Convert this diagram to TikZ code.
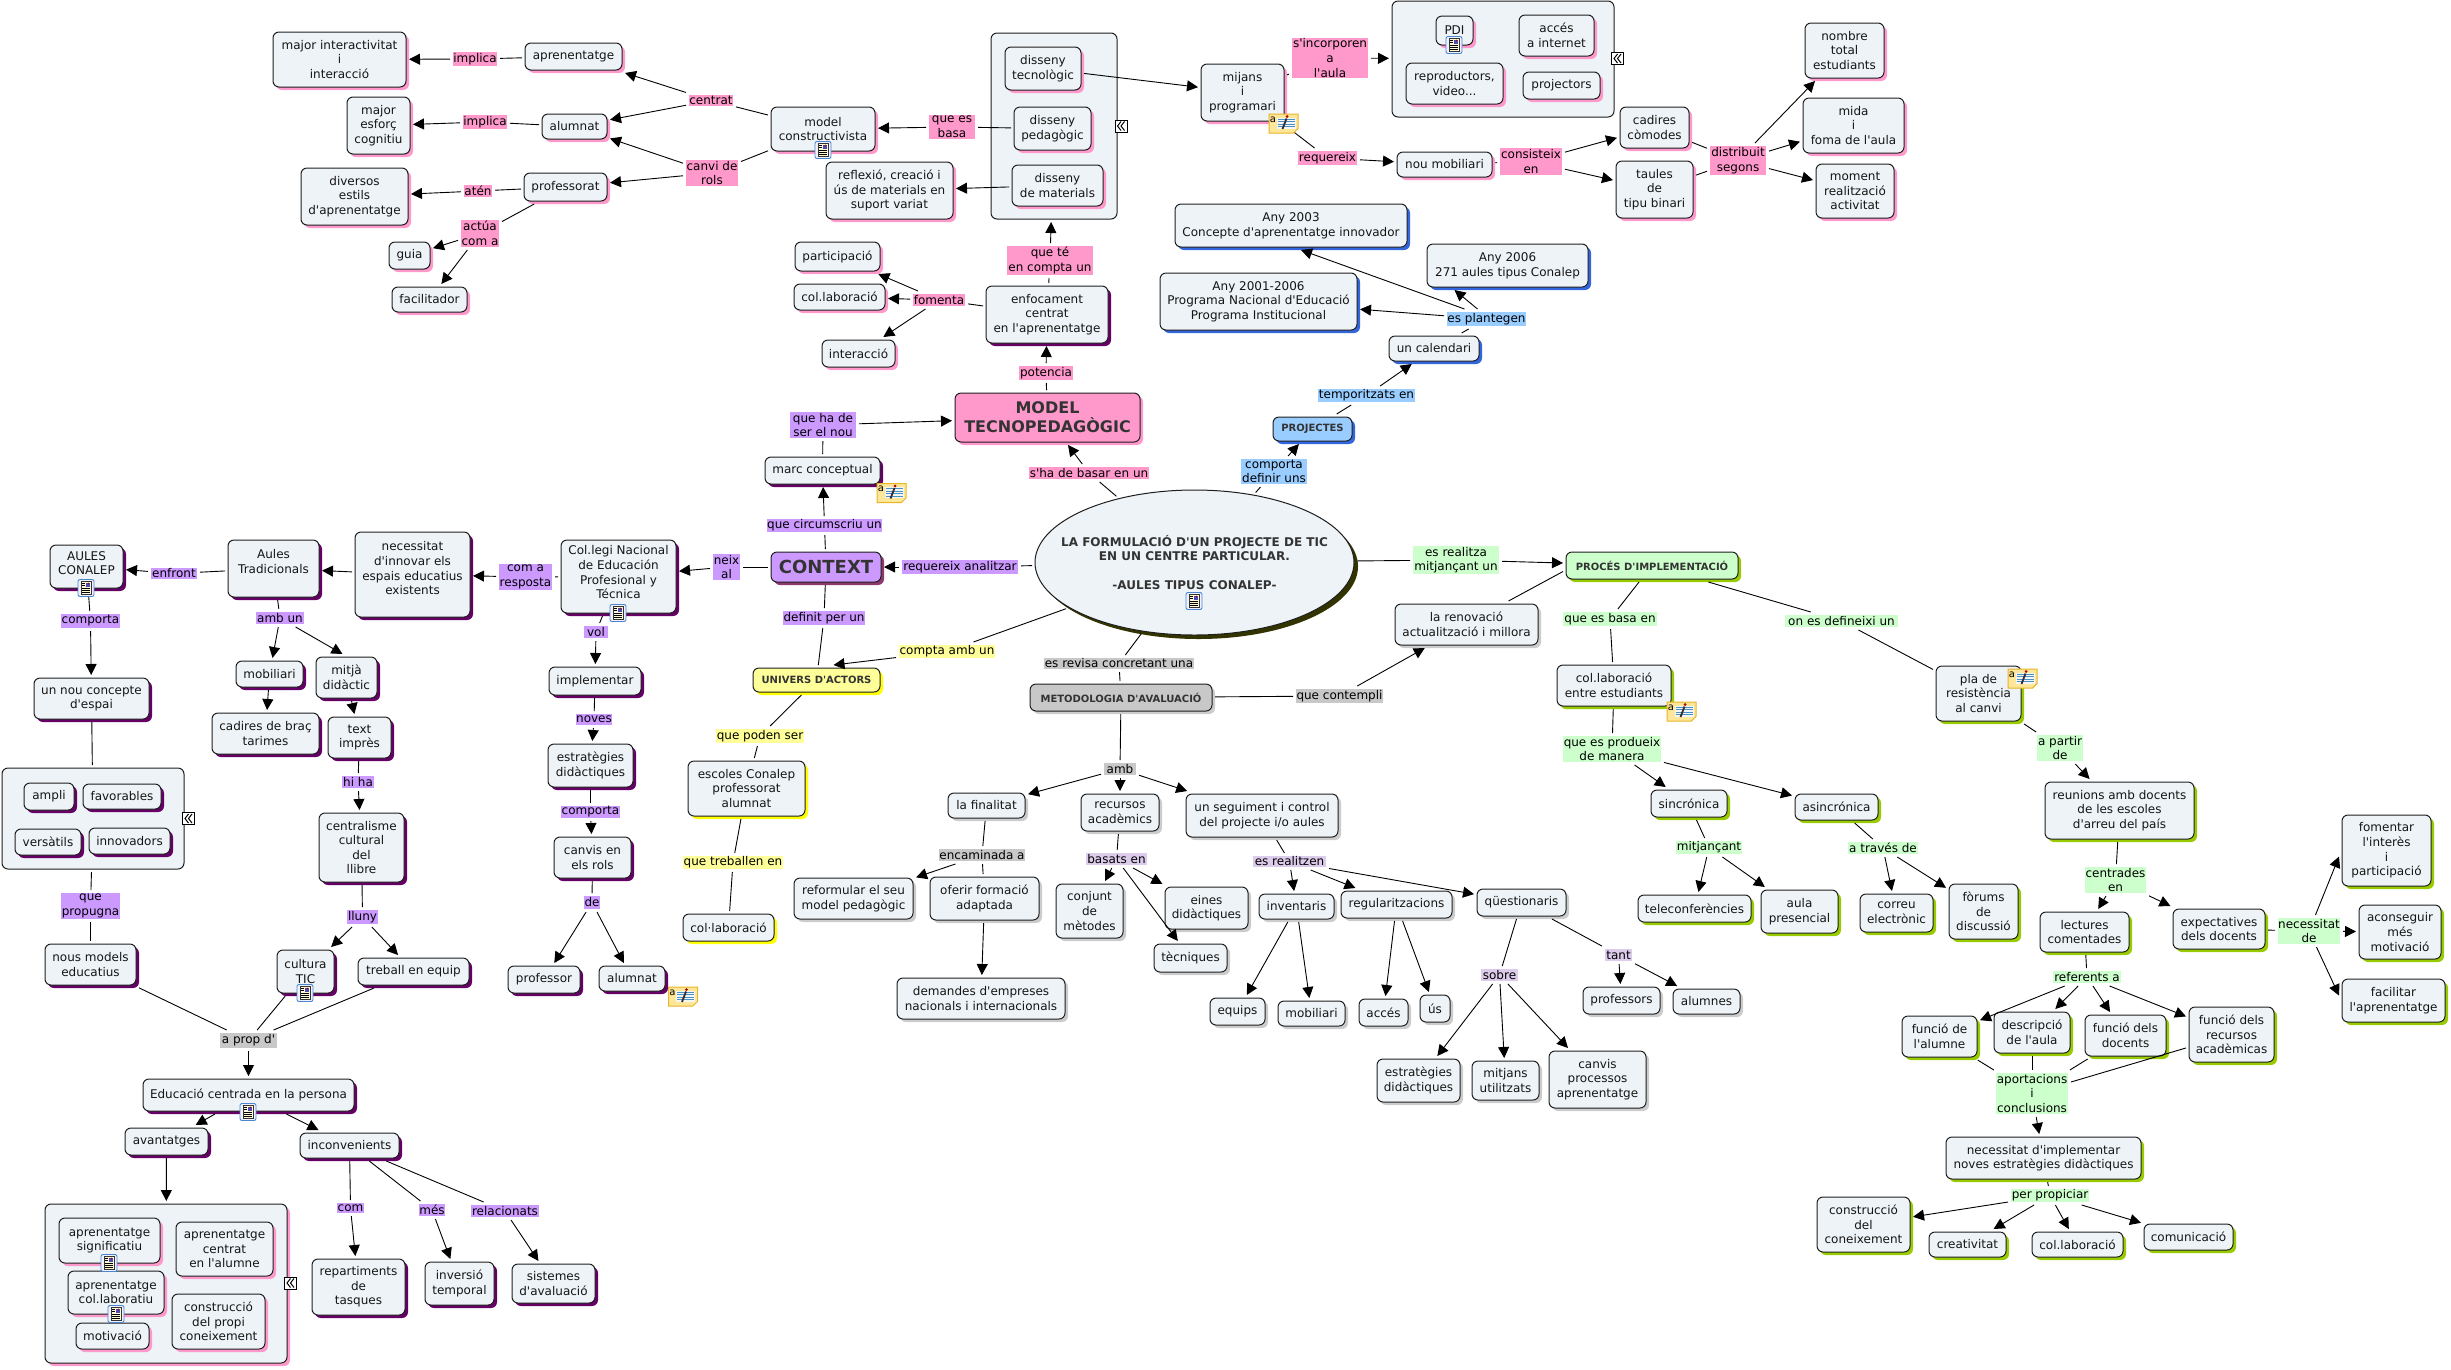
\documentclass[tikz,border=0pt]{standalone}
\usepackage{fontspec}
\usetikzlibrary{arrows.meta,shadows,shapes.geometric}
\newfontfamily\dv{DejaVu Sans}
\definecolor{nfill}{HTML}{EDF3F6}
\definecolor{nline}{HTML}{1E1E1E}
\definecolor{cpink}{HTML}{FF99CC}
\definecolor{cpurp}{HTML}{CC99FF}
\definecolor{cgreen}{HTML}{CCFFCC}
\definecolor{cblue}{HTML}{99CCFF}
\definecolor{cyell}{HTML}{FFFF99}
\definecolor{cgray}{HTML}{C8C8C8}
\definecolor{clav}{HTML}{DCCBEA}
\definecolor{sdpurp}{HTML}{660066}
\definecolor{sdblue}{HTML}{3366DD}
\definecolor{sdgreen}{HTML}{99CC00}
\definecolor{sdyell}{HTML}{FFFF00}
\definecolor{sdgray}{HTML}{CCCCCC}
\definecolor{sdolive}{HTML}{333300}
\definecolor{sdcontext}{HTML}{8B3A6B}
\definecolor{txt}{HTML}{151515}
\definecolor{txtb}{HTML}{333333}
\definecolor{iconblue}{HTML}{4A86D0}
\definecolor{iconpage}{HTML}{FFFBD8}
\definecolor{noteyell}{HTML}{FFE79A}
\definecolor{noteline}{HTML}{E8B428}
\definecolor{notepage}{HTML}{F4F6F2}
\definecolor{noteblue}{HTML}{4A90C8}
\definecolor{notepen}{HTML}{3A2A30}
\tikzset{
  basebox/.style={rectangle,rounded corners=6pt,draw=nline,line width=1pt,fill=nfill,
    inner sep=0pt,outer sep=3pt,align=center,text=txt,
    font={\dv\fontsize{12}{14.6}\selectfont}},
  groupbox/.style={basebox},
  sdw/.style={general shadow={fill=#1,shadow xshift=3pt,shadow yshift=-3pt}},
  npink/.style={basebox,sdw=cpink},
  npurp/.style={basebox,sdw=sdpurp},
  nblue/.style={basebox,sdw=sdblue},
  ngreen/.style={basebox,sdw=sdgreen},
  nyell/.style={basebox,sdw=sdyell},
  ngray/.style={basebox,sdw=sdgray},
  boldsmall/.style={font={\dv\bfseries\fontsize{10}{12}\selectfont},text=txtb},
  lblbase/.style={rectangle,inner sep=0pt,outer sep=3pt,align=center,text=black,
    font={\dv\fontsize{12}{14.6}\selectfont}},
  lpink/.style={lblbase,fill=cpink},
  lpurp/.style={lblbase,fill=cpurp},
  lgreen/.style={lblbase,fill=cgreen},
  lblue/.style={lblbase,fill=cblue},
  lyell/.style={lblbase,fill=cyell},
  lgray/.style={lblbase,fill=cgray},
  llav/.style={lblbase,fill=clav},
  lnk/.style={line width=.9pt,draw=black},
  arw/.style={line width=.9pt,draw=black,-{Triangle[length=11pt,width=11pt]}},
  docicon/.pic={
    \draw[rounded corners=2pt,draw=iconblue,fill=blue!6,line width=.9pt] (-8,-8.5) rectangle (8,8.5);
    \draw[fill=iconpage,draw=black!80,line width=.6pt] (-5,-6.5) rectangle (5,6.5);
    \fill[blue!40!gray] (0,-5.5) rectangle (4,-1.5);
    \fill[red!70!black] (2.5,-4.5) circle (.9);
    \foreach \yy in {-4.5,-2.5}{\draw[line width=.6pt] (-4,\yy) -- (-1,\yy);}
    \foreach \yy in {0,2,4}{\draw[line width=.6pt] (-4,\yy) -- (4,\yy);}
  },
  noteicon/.pic={
    \draw[fill=noteyell,draw=noteline,line width=1pt] (-14.5,-9.5) -- (14.5,-9.5) -- (14.5,5) -- (10,9.5) -- (-14.5,9.5) -- cycle;
    \fill[notepage] (-7,-6) rectangle (12,5);
    \foreach \yy in {-4.5,-2,.5,3}{\draw[noteblue,line width=.9pt] (-6,\yy) -- (11,\yy);}
    \draw[notepen,line width=1.8pt] (3,-5) -- (-1,5.5);
    \fill[red!70!black] (3.5,-7) circle (1.5);
    \node[inner sep=0pt,font={\dv\fontsize{10}{10}\selectfont}] (glyph) at (-10.5,-4) {a};
  },
  expandicon/.pic={
    \draw[fill=white,draw=black,line width=1pt] (-6,-6) rectangle (6,6);
    \draw[line width=1pt] (0,-4.5) -- (-3.5,0) -- (0,4.5);
    \draw[line width=1pt] (3.5,-4.5) -- (0,0) -- (3.5,4.5);
  }
}
\newcommand{\nd}[7]{%
  \pgfmathsetmacro\cxx{(#3+#5)/2}\pgfmathsetmacro\cyy{(#4+#6)/2}%
  \pgfmathsetmacro\wdd{#5-#3}\pgfmathsetmacro\hgg{#6-#4}%
  \node[#1,minimum width=\wdd pt,minimum height=\hgg pt] (#2) at (\cxx,\cyy) {#7};}
\begin{document}
\begin{tikzpicture}[x=1pt,y=-1pt]
\path[use as bounding box] (0,0) rectangle (2451,1369);
% group boxes
\nd{groupbox}{gdis}{991}{33}{1117}{219}{}
\nd{groupbox}{gmit}{1392}{1}{1614}{117}{}
\nd{groupbox}{gesp}{2}{768}{184}{869}{}
\nd{npink}{gapr}{45}{1204}{287}{1363}{}
% top-left pink
\nd{npink}{maj}{273}{32}{406}{87}{major interactivitat\\i\\interacció}
\nd{npink}{apr}{525}{43}{622}{70}{aprenentatge}
\nd{npink}{esf}{347}{97}{410}{154}{major\\esforç\\cognitiu}
\nd{npink}{alu}{542}{114}{607}{139}{alumnat}
\nd{npink}{div}{301}{168}{408}{225}{diversos\\estils\\d'aprenentatge}
\nd{npink}{prf}{524}{173}{607}{201}{professorat}
\nd{npink}{gui}{389}{242}{430}{269}{guia}
\nd{npink}{fac}{392}{287}{467}{312}{facilitador}
\nd{npink}{dte}{1005}{47}{1081}{90}{disseny\\tecnològic}
\nd{npink}{dpe}{1014}{107}{1091}{150}{disseny\\pedagògic}
\nd{npink}{dma}{1012}{165}{1103}{206}{disseny\\de materials}
\nd{npink}{mco}{771}{107}{875}{151}{model\\constructivista}
\nd{npink}{ref}{826}{162}{953}{219}{reflexió, creació i\\ús de materials en\\suport variat}
\nd{npink}{par}{795}{242}{880}{271}{participació}
\nd{npink}{cola}{794}{284}{885}{310}{col.laboració}
\nd{npink}{int}{822}{340}{895}{367}{interacció}
\nd{npurp}{enf}{986}{286}{1108}{343}{enfocament\\centrat\\en l'aprenentatge}
\node[npink,fill=cpink,font={\dv\bfseries\fontsize{16}{19}\selectfont},text=txtb,minimum width=185pt,minimum height=49pt] (mod) at (1047.5,417.5) {MODEL\\TECNOPEDAGÒGIC};
\nd{npink}{mij}{1201}{64}{1284}{121}{mijans\\i\\programari}
\nd{npink}{pdi}{1436}{16}{1473}{45}{PDI}
\nd{npink}{acc}{1519}{15}{1594}{56}{accés\\a internet}
\nd{npink}{rep}{1406}{63}{1503}{104}{reproductors,\\video...}
\nd{npink}{prj}{1523}{72}{1600}{99}{projectors}
\nd{npink}{nmo}{1397}{152}{1492}{177}{nou mobiliari}
\nd{npink}{cad}{1620}{107}{1689}{148}{cadires\\còmodes}
\nd{npink}{tau}{1616}{161}{1693}{218}{taules\\de\\tipu binari}
\nd{npink}{nom}{1805}{23}{1884}{78}{nombre\\total\\estudiants}
\nd{npink}{mid}{1803}{98}{1904}{153}{mida\\i\\foma de l'aula}
\nd{npink}{mom}{1816}{164}{1894}{218}{moment\\realització\\activitat}
% blue
\nd{nblue}{a03}{1175}{204}{1407}{247}{Any 2003\\Concepte d'aprenentatge innovador}
\nd{nblue}{a01}{1160}{273}{1357}{330}{Any 2001-2006\\Programa Nacional d'Educació\\Programa Institucional}
\nd{nblue}{a06}{1427}{244}{1588}{287}{Any 2006\\271 aules tipus Conalep}
\nd{nblue}{cal}{1389}{336}{1479}{361}{un calendari}
\nd{nblue,fill=cblue,boldsmall}{prjs}{1273}{417}{1352}{441}{PROJECTES}
% centre
\node[basebox,shape=ellipse,general shadow={fill=sdolive,shadow xshift=4pt,shadow yshift=-4pt},minimum width=319pt,minimum height=145pt] (ell) at (1194.5,562.5) {};
\node[align=center,inner sep=0pt,font={\dv\bfseries\fontsize{12}{14.6}\selectfont},text=txtb] (elltxt) at (1194.5,562.5) {LA FORMULACIÓ D'UN PROJECTE DE TIC\\EN UN CENTRE PARTICULAR.\\ \\-AULES TIPUS CONALEP-};
\node[basebox,sdw=sdcontext,fill=cpurp,font={\dv\bfseries\fontsize{18}{20}\selectfont},text=txtb,minimum width=110pt,minimum height=30pt] (ctx) at (826,567) {CONTEXT};
\nd{npurp}{mar}{765}{457}{880}{484}{marc conceptual}
\nd{npurp}{col}{561}{540}{676}{613}{Col.legi Nacional\\de Educación\\Profesional y\\Técnica\\[-6pt]\mbox{}}
\nd{npurp}{nec}{355}{532}{470}{617}{necessitat\\d'innovar els\\espais educatius\\existents\\[-2pt]\mbox{}}
\nd{npurp}{aut}{228}{540}{319}{597}{Aules\\Tradicionals\\\mbox{}}
\nd{npurp}{con}{50}{545}{123}{588}{AULES\\CONALEP\\[-8pt]\mbox{}}
\nd{npurp}{nou}{34}{678}{149}{719}{un nou concepte\\d'espai}
\nd{npurp}{mob}{236}{661}{303}{687}{mobiliari}
\nd{npurp}{mit}{316}{657}{377}{698}{mitjà\\didàctic}
\nd{npurp}{cbr}{212}{713}{319}{754}{cadires de braç\\tarimes}
\nd{npurp}{tex}{328}{717}{391}{758}{text\\imprès}
\nd{npurp}{amp}{24}{783}{74}{810}{ampli}
\nd{npurp}{fav}{83}{784}{161}{809}{favorables}
\nd{npurp}{ver}{15}{829}{81}{855}{versàtils}
\nd{npurp}{inn}{89}{828}{170}{854}{innovadors}
\nd{npurp}{cen}{319}{813}{404}{882}{centralisme\\cultural\\del\\llibre}
\nd{npurp}{imp}{549}{667}{641}{695}{implementar}
\nd{npurp}{est}{548}{744}{633}{787}{estratègies\\didàctiques}
\nd{npurp}{can}{554}{837}{631}{878}{canvis en\\els rols}
\nd{npurp}{nmd}{45}{944}{136}{985}{nous models\\educatius}
\nd{npurp}{cul}{277}{950}{334}{993}{cultura\\TIC}
\nd{npurp}{tre}{358}{958}{469}{985}{treball en equip}
\nd{npurp}{pro}{508}{966}{580}{993}{professor}
\nd{npurp}{alm}{599}{966}{665}{991}{alumnat}
\nd{npurp}{edu}{143}{1079}{354}{1111}{Educació centrada en la persona}
\nd{npurp}{ava}{125}{1128}{208}{1155}{avantatges}
\nd{npurp}{inc}{300}{1133}{399}{1158}{inconvenients}
\nd{npink}{asi}{59}{1218}{160}{1263}{aprenentatge\\significatiu}
\nd{npink}{ace}{176}{1222}{273}{1276}{aprenentatge\\centrat\\en l'alumne}
\nd{npink}{aco}{68}{1271}{164}{1314}{aprenentatge\\col.laboratiu}
\nd{npink}{mot}{76}{1323}{149}{1349}{motivació}
\nd{npink}{cns}{172}{1294}{265}{1349}{construcció\\del propi\\coneixement}
\nd{npurp}{rpt}{312}{1259}{405}{1315}{repartiments\\de\\tasques}
\nd{npurp}{inv}{425}{1262}{494}{1305}{inversió\\temporal}
\nd{npurp}{sis}{512}{1264}{595}{1303}{sistemes\\d'avaluació}
% yellow
\nd{nyell,fill=cyell,boldsmall}{uni}{753}{668}{880}{692}{UNIVERS D'ACTORS}
\nd{nyell}{esc}{688}{761}{805}{816}{escoles Conalep\\professorat\\alumnat}
\nd{nyell}{cll}{683}{914}{774}{941}{col·laboració}
% gray
\nd{ngray,fill=cgray,boldsmall}{met}{1030}{684}{1212}{711}{METODOLOGIA D'AVALUACIÓ}
\nd{ngray}{ren}{1395}{604}{1538}{645}{la renovació\\actualització i millora}
\nd{ngray}{fin}{948}{793}{1025}{818}{la finalitat}
\nd{ngray}{rec}{1081}{794}{1159}{831}{recursos\\acadèmics}
\nd{ngray}{seg}{1186}{794}{1338}{837}{un seguiment i control\\del projecte i/o aules}
\nd{ngray}{rfm}{794}{878}{913}{919}{reformular el seu\\model pedagògic}
\nd{ngray}{ofe}{930}{877}{1039}{920}{oferir formació\\adaptada}
\nd{ngray}{cnj}{1056}{884}{1123}{938}{conjunt\\de\\mètodes}
\nd{ngray}{ein}{1165}{887}{1248}{929}{eines\\didàctiques}
\nd{ngray}{tcn}{1154}{944}{1227}{972}{tècniques}
\nd{ngray}{dem}{897}{978}{1065}{1019}{demandes d'empreses\\nacionals i internacionals}
\nd{ngray}{ivt}{1259}{894}{1334}{919}{inventaris}
\nd{ngray}{reg}{1341}{891}{1452}{918}{regularitzacions}
\nd{ngray}{qes}{1477}{889}{1566}{916}{qüestionaris}
\nd{ngray}{equ}{1210}{998}{1265}{1025}{equips}
\nd{ngray}{mbl}{1278}{1001}{1345}{1026}{mobiliari}
\nd{ngray}{acs}{1359}{999}{1408}{1026}{accés}
\nd{ngray}{usn}{1420}{995}{1450}{1022}{ús}
\nd{ngray}{esd}{1377}{1059}{1460}{1102}{estratègies\\didàctiques}
\nd{ngray}{mut}{1472}{1061}{1539}{1100}{mitjans\\utilitzats}
\nd{ngray}{cpa}{1549}{1051}{1646}{1108}{canvis\\processos\\aprenentatge}
\nd{ngray}{pfs}{1583}{987}{1660}{1014}{professors}
\nd{ngray}{als}{1673}{989}{1740}{1014}{alumnes}
% green
\nd{ngreen,fill=cgreen,boldsmall}{pim}{1566}{552}{1738}{579}{PROCÉS D'IMPLEMENTACIÓ}
\nd{ngreen}{cen2}{1557}{665}{1671}{706}{col.laboració\\entre estudiants}
\nd{ngreen}{sin}{1651}{790}{1727}{817}{sincrónica}
\nd{ngreen}{asn}{1795}{794}{1878}{820}{asincrónica}
\nd{ngreen}{tel}{1638}{895}{1751}{922}{teleconferències}
\nd{ngreen}{aul}{1761}{890}{1838}{933}{aula\\presencial}
\nd{ngreen}{cor}{1860}{894}{1933}{932}{correu\\electrònic}
\nd{ngreen}{for}{1949}{884}{2018}{939}{fòrums\\de\\discussió}
\nd{ngreen}{pla}{1936}{666}{2021}{721}{pla de\\resistència\\al canvi}
\nd{ngreen}{reu}{2045}{782}{2194}{839}{reunions amb docents\\de les escoles\\d'arreu del país}
\nd{ngreen}{fom}{2342}{815}{2431}{886}{fomentar\\l'interès\\i\\participació}
\nd{ngreen}{lec}{2040}{912}{2129}{952}{lectures\\comentades}
\nd{ngreen}{exd}{2173}{909}{2265}{949}{expectatives\\dels docents}
\nd{ngreen}{aco2}{2359}{905}{2441}{959}{aconseguir\\més\\motivació}
\nd{ngreen}{fcl}{2342}{979}{2445}{1022}{facilitar\\l'aprenentatge}
\nd{ngreen}{fal}{1902}{1016}{1977}{1057}{funció de\\l'alumne}
\nd{ngreen}{des}{1994}{1012}{2070}{1053}{descripció\\de l'aula}
\nd{ngreen}{fdo}{2085}{1015}{2166}{1056}{funció dels\\docents}
\nd{ngreen}{fre}{2189}{1007}{2274}{1062}{funció dels\\recursos\\acadèmicas}
\nd{ngreen}{nim}{1946}{1137}{2141}{1179}{necessitat d'implementar\\noves estratègies didàctiques}
\nd{ngreen}{cnx}{1817}{1197}{1910}{1252}{construcció\\del\\coneixement}
\nd{ngreen}{cre}{1929}{1232}{2006}{1257}{creativitat}
\nd{ngreen}{clb}{2032}{1232}{2123}{1257}{col.laboració}
\nd{ngreen}{cmu}{2144}{1224}{2233}{1250}{comunicació}
% labels
\nd{lpink}{l1}{453}{52}{497}{66}{implica}
\nd{lpink}{l2}{463}{115}{507}{129}{implica}
\nd{lpink}{l3}{464}{185}{492}{197}{atén}
\nd{lpink}{l4}{461}{220}{499}{247}{actúa\\com a}
\nd{lpink}{l5}{689}{95}{733}{106}{centrat}
\nd{lpink}{l6}{686}{160}{738}{186}{canvi de\\rols}
\nd{lpink}{l7}{929}{115}{975}{139}{que es\\basa}
\nd{lpink}{l8}{1007}{246}{1093}{275}{que té\\en compta un}
\nd{lpink}{l9}{913}{294}{965}{306}{fomenta}
\nd{lpink}{l10}{1019}{366}{1073}{380}{potencia}
\nd{lpurp}{l11}{790}{412}{856}{438}{que ha de\\ser el nou}
\nd{lpink}{l12}{1292}{38}{1368}{78}{s'incorporen\\a\\l'aula}
\nd{lpink}{l13}{1298}{151}{1357}{165}{requereix}
\nd{lpink}{l14}{1500}{148}{1562}{175}{consisteix\\en}
\nd{lpink}{l15}{1710}{146}{1766}{175}{distribuit\\segons}
\nd{lblue}{l16}{1447}{312}{1526}{326}{es plantegen}
\nd{lblue}{l17}{1318}{389}{1415}{402}{temporitzats en}
\nd{lblue}{l18}{1241}{459}{1307}{484}{comporta\\definir uns}
\nd{lpurp}{l19}{151}{568}{197}{579}{enfront}
\nd{lpurp}{l20}{499}{564}{552}{590}{com a\\resposta}
\nd{lpurp}{l21}{61}{614}{120}{628}{comporta}
\nd{lpurp}{l22}{256}{612}{304}{624}{amb un}
\nd{lpurp}{l23}{584}{626}{608}{638}{vol}
\nd{lpurp}{l24}{576}{714}{612}{725}{noves}
\nd{lpurp}{l25}{561}{806}{620}{818}{comporta}
\nd{lpurp}{l26}{342}{776}{374}{788}{hi ha}
\nd{lpurp}{l27}{61}{893}{120}{919}{que\\propugna}
\nd{lpurp}{l28}{347}{910}{378}{924}{lluny}
\nd{lpurp}{l29}{584}{896}{600}{909}{de}
\nd{lpink}{l30}{1029}{467}{1149}{479}{s'ha de basar en un}
\nd{lpurp}{l31}{767}{519}{882}{532}{que circumscriu un}
\nd{lpurp}{l32}{713}{554}{740}{580}{neix\\al}
\nd{lpurp}{l33}{902}{560}{1018}{574}{requereix analitzar}
\nd{lpurp}{l34}{783}{611}{865}{625}{definit per un}
\nd{lyell}{l35}{899}{645}{995}{658}{compta amb un}
\nd{lgray}{l36}{1044}{658}{1194}{669}{es revisa concretant una}
\nd{lyell}{l37}{716}{729}{804}{743}{que poden ser}
\nd{lyell}{l38}{683}{856}{783}{869}{que treballen en}
\nd{lgray}{l39}{1104}{763}{1136}{775}{amb}
\nd{lgray}{l40}{939}{849}{1025}{861}{encaminada a}
\nd{llav}{l41}{1086}{853}{1147}{865}{basats en}
\nd{lgreen}{l42}{1413}{546}{1499}{574}{es realitza\\mitjançant un}
\nd{lgray}{l43}{1296}{689}{1383}{703}{que contempli}
\nd{lgreen}{l44}{1563}{612}{1657}{626}{que es basa en}
\nd{lgreen}{l45}{1785}{615}{1898}{627}{on es defineixi un}
\nd{lgreen}{l46}{1563}{736}{1661}{762}{que es produeix\\de manera}
\nd{lgreen}{l47}{1676}{841}{1742}{854}{mitjançant}
\nd{llav}{l48}{1253}{856}{1326}{867}{es realitzen}
\nd{lgreen}{l49}{1848}{842}{1918}{854}{a través de}
\nd{lgreen}{l50}{2037}{735}{2083}{761}{a partir\\de}
\nd{lgreen}{l51}{2085}{867}{2146}{893}{centrades\\en}
\nd{lgray}{l52}{220}{1033}{277}{1048}{a prop d'}
\nd{lpurp}{l53}{337}{1203}{364}{1213}{com}
\nd{lpurp}{l54}{419}{1204}{445}{1216}{més}
\nd{lpurp}{l55}{471}{1205}{539}{1217}{relacionats}
\nd{llav}{l56}{1481}{969}{1518}{981}{sobre}
\nd{llav}{l57}{1605}{949}{1632}{961}{tant}
\nd{lgreen}{l58}{2278}{918}{2340}{944}{necessitat\\de}
\nd{lgreen}{l59}{2053}{971}{2121}{983}{referents a}
\nd{lgreen}{l60}{1996}{1073}{2068}{1114}{aportacions\\i\\conclusions}
\nd{lgreen}{l61}{2011}{1189}{2089}{1202}{per propiciar}
% connectors
\draw[lnk] (apr) -- (l1); \draw[arw] (l1) -- (maj);
\draw[lnk] (alu) -- (l2); \draw[arw] (l2) -- (esf);
\draw[lnk] (prf) -- (l3); \draw[arw] (l3) -- (div);
\draw[lnk] (prf) -- (l4); \draw[arw] (l4) -- (gui); \draw[arw] (l4) -- (fac);
\draw[lnk] (mco) -- (l5); \draw[arw] (l5) -- (apr); \draw[arw] (l5) -- (alu);
\draw[lnk] (mco) -- (l6); \draw[arw] (l6) -- (alu); \draw[arw] (l6) -- (prf);
\draw[lnk] (dpe) -- (l7); \draw[arw] (l7) -- (mco);
\draw[arw] (dma) -- (ref);
\draw[arw] (dte) -- (mij);
\draw[lnk] (enf) -- (l8); \draw[arw] (l8) -- (gdis);
\draw[lnk] (enf) -- (l9); \draw[arw] (l9) -- (par); \draw[arw] (l9) -- (cola); \draw[arw] (l9) -- (int);
\draw[lnk] (mod) -- (l10); \draw[arw] (l10) -- (enf);
\draw[lnk] (mar) -- (l11); \draw[arw] (l11) -- (mod);
\draw[lnk] (mij) -- (l12); \draw[arw] (l12) -- (gmit);
\draw[lnk] (mij) -- (l13); \draw[arw] (l13) -- (nmo);
\draw[lnk] (nmo) -- (l14); \draw[arw] (l14) -- (cad); \draw[arw] (l14) -- (tau);
\draw[lnk] (cad) -- (l15); \draw[lnk] (tau) -- (l15);
\draw[arw] (l15) -- (nom); \draw[arw] (l15) -- (mid); \draw[arw] (l15) -- (mom);
\draw[lnk] (cal) -- (l16); \draw[arw] ([xshift=-22pt]l16.north) -- ([xshift=10pt]a03.south); \draw[arw] (l16) -- (a01); \draw[arw] ([xshift=-9pt]l16.north) -- ([xshift=-53pt]a06.south);
\draw[lnk] (prjs) -- (l17); \draw[arw] (l17) -- (cal);
\draw[lnk] (ell) -- (l18); \draw[arw] (l18) -- (prjs);
\draw[lnk] (ell) -- (l30); \draw[arw] (l30) -- (mod);
\draw[lnk] (ell) -- (l33); \draw[arw] (l33) -- (ctx);
\draw[lnk] (ell) -- (l35); \draw[arw] (l35) -- ([xshift=17pt]uni.north);
\draw[lnk] (ell) -- (l36); \draw[lnk] (l36) -- (met);
\draw[lnk] (ell) -- (l42); \draw[arw] (l42) -- (pim);
\draw[lnk] (ctx) -- (l31); \draw[arw] (l31) -- (mar);
\draw[lnk] (ctx) -- (l32); \draw[arw] (l32) -- (col);
\draw[lnk] (ctx) -- (l34); \draw[lnk] (l34) -- (uni);
\draw[lnk] (col) -- (l20); \draw[arw] (l20) -- (nec);
\draw[arw] (nec) -- (aut);
\draw[lnk] (aut) -- (l19); \draw[arw] (l19) -- (con);
\draw[lnk] (con) -- (l21); \draw[arw] (l21) -- (nou);
\draw[lnk] (nou) -- (gesp);
\draw[lnk] (gesp) -- (l27); \draw[lnk] (l27) -- (nmd);
\draw[lnk] (aut) -- (l22); \draw[arw] (l22) -- (mob); \draw[arw] (l22) -- ([xshift=-4pt]mit.north);
\draw[arw] (mob) -- (cbr);
\draw[arw] (mit) -- (tex);
\draw[lnk] (tex) -- (l26); \draw[arw] (l26) -- (cen);
\draw[lnk] (cen) -- (l28); \draw[arw] (l28) -- (cul); \draw[arw] (l28) -- (tre);
\draw[lnk] (nmd) -- (l52); \draw[lnk] (cul) -- (l52); \draw[lnk] (tre) -- (l52);
\draw[arw] (l52) -- (edu);
\draw[arw] (edu) -- (ava); \draw[arw] (edu) -- (inc);
\draw[arw] (ava) -- (gapr);
\draw[lnk] (inc) -- (l53); \draw[arw] (l53) -- (rpt);
\draw[lnk] (inc) -- (l54); \draw[arw] (l54) -- (inv);
\draw[lnk] (inc) -- (l55); \draw[arw] (l55) -- (sis);
\draw[lnk] (col) -- (l23); \draw[arw] (l23) -- (imp);
\draw[lnk] (imp) -- (l24); \draw[arw] (l24) -- (est);
\draw[lnk] (est) -- (l25); \draw[arw] (l25) -- (can);
\draw[lnk] (can) -- (l29); \draw[arw] (l29) -- (pro); \draw[arw] (l29) -- (alm);
\draw[lnk] (uni) -- (l37); \draw[lnk] (l37) -- (esc);
\draw[lnk] (esc) -- (l38); \draw[lnk] (l38) -- (cll);
\draw[lnk] (met) -- (l43); \draw[arw] (l43) -- (ren);
\draw[lnk] ([xshift=42pt]ren.north) -- ([yshift=-6pt]pim.west);
\draw[lnk] (met) -- (l39); \draw[arw] (l39) -- (fin); \draw[arw] (l39) -- (rec); \draw[arw] (l39) -- (seg);
\draw[lnk] (fin) -- (l40); \draw[arw] (l40) -- (rfm); \draw[lnk] (l40) -- (ofe);
\draw[arw] (ofe) -- (dem);
\draw[lnk] (rec) -- (l41); \draw[arw] (l41) -- (cnj); \draw[arw] (l41) -- (tcn); \draw[arw] (l41) -- (ein);
\draw[lnk] (seg) -- (l48); \draw[arw] (l48) -- (ivt); \draw[arw] (l48) -- (reg); \draw[arw] (l48) -- (qes);
\draw[arw] (ivt) -- (equ); \draw[arw] (ivt) -- (mbl);
\draw[arw] (reg) -- (acs); \draw[arw] (reg) -- (usn);
\draw[lnk] (qes) -- (l56); \draw[arw] (l56) -- (esd); \draw[arw] (l56) -- (mut); \draw[arw] (l56) -- (cpa);
\draw[lnk] (qes) -- (l57); \draw[arw] (l57) -- (pfs); \draw[arw] (l57) -- (als);
\draw[lnk] (pim) -- (l44); \draw[lnk] (l44) -- (cen2);
\draw[lnk] (cen2) -- (l46); \draw[arw] (l46) -- (sin); \draw[arw] (l46) -- (asn);
\draw[lnk] (sin) -- (l47); \draw[arw] (l47) -- (tel); \draw[arw] (l47) -- (aul);
\draw[lnk] (asn) -- (l49); \draw[arw] (l49) -- (cor); \draw[arw] (l49) -- (for);
\draw[lnk] (pim) -- (l45); \draw[lnk] (l45) -- (pla);
\draw[lnk] (pla) -- (l50); \draw[arw] (l50) -- (reu);
\draw[lnk] (reu) -- (l51); \draw[arw] (l51) -- (lec); \draw[arw] (l51) -- (exd);
\draw[lnk] (exd) -- (l58); \draw[arw] (l58) -- ([yshift=-6pt]fom.west); \draw[arw] (l58) -- (aco2); \draw[arw] (l58) -- ([yshift=5pt]fcl.west);
\draw[lnk] (lec) -- (l59); \draw[arw] (l59) -- (fal); \draw[arw] (l59) -- (des); \draw[arw] (l59) -- (fdo); \draw[arw] (l59) -- (fre);
\draw[lnk] (fal) -- (l60); \draw[lnk] (des) -- (l60); \draw[lnk] (fdo) -- (l60); \draw[lnk] (fre) -- (l60);
\draw[arw] (l60) -- (nim);
\draw[lnk] (nim) -- (l61); \draw[arw] (l61) -- (cnx); \draw[arw] (l61) -- (cre); \draw[arw] (l61) -- (clb); \draw[arw] (l61) -- (cmu);
% icons
\pic at (823,150) {docicon};
\pic at (1454,45) {docicon};
\pic at (86,588) {docicon};
\pic at (618,613) {docicon};
\pic at (1194,601) {docicon};
\pic at (305,993) {docicon};
\pic at (248,1112) {docicon};
\pic at (109,1263) {docicon};
\pic at (116,1314) {docicon};
\pic (n1) at (1283.5,123.5) {noteicon};
\pic (n2) at (891.5,493) {noteicon};
\pic (n3) at (683,996.5) {noteicon};
\pic (n4) at (1681.5,711.5) {noteicon};
\pic (n5) at (2022.5,678.5) {noteicon};
\pic at (1121,126) {expandicon};
\pic at (1617.5,58.5) {expandicon};
\pic at (188.5,818.5) {expandicon};
\pic at (290.5,1283) {expandicon};
\end{tikzpicture}
\end{document}
